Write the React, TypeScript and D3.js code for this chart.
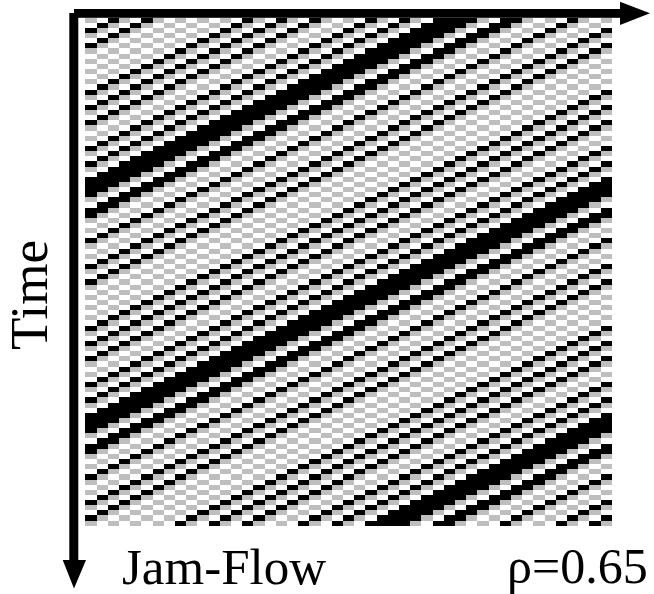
import React from "react";
import * as d3 from "d3";

// Diagonal jam stripes: each value is the row at which
// the stripe would meet column 0 (column + row = value).
const jamStripes = [
  2, 5, 14, 17, 20, 25, 28, 31, 32, 33, 34, 37, 38, 43,
  48, 51, 60, 63, 66, 71, 74, 77, 78, 79, 80, 83, 84, 89,
  94, 97, 106, 109, 112, 117, 120, 123, 124, 125, 126, 129, 130, 135,
  140, 143,
];
const rowCount = 99;
const ringSize = 46; // sites on the ring; the last drawn column repeats the first
const colCount = 47;

const xLabel = "Jam-Flow";
const yLabel = "Time";
const densityLabel = "ρ=0.65";

const colours = { jam: "#000000", moving: "#bebebe", empty: "#ffffff" };

const W = 654;
const H = 594;
const font = "'Liberation Serif', 'Times New Roman', serif";

type State = "jam" | "moving" | "empty";

function buildRows(): State[][] {
  const rows: State[][] = [];
  for (let r = 0; r < rowCount; r++) {
    const black = new Set<number>();
    jamStripes.forEach((k) => {
      const c = k - r;
      if (c >= 0 && c < colCount) black.add(c % ringSize);
    });
    const first = Math.min(...Array.from(black));
    const ring: State[] = new Array(ringSize);
    let prev: State = "jam";
    ring[first] = "jam";
    for (let i = 1; i < ringSize; i++) {
      const c = (first + i) % ringSize;
      let s: State;
      if (black.has(c)) s = "jam";
      else if (prev === "moving") s = "empty";
      else s = "moving";
      ring[c] = s;
      prev = s;
    }
    rows.push([...ring, ring[0]]);
  }
  return rows;
}

export default function App() {
  const x = d3.scaleLinear().domain([0, colCount]).range([85.3, 611.7]);
  const y = d3.scaleLinear().domain([0, rowCount]).range([17.7, 525.7]);
  const rows = buildRows();
  const cw = x(1) - x(0);
  const rh = y(1) - y(0);
  return (
    <svg
      width={W}
      height={H}
      viewBox={`0 0 ${W} ${H}`}
      style={{ position: "absolute", left: 0, top: 0, background: "#fff" }}
    >
      <defs>
        <filter id="soft" x="-2%" y="-2%" width="104%" height="104%">
          <feGaussianBlur stdDeviation="0.45" />
        </filter>
      </defs>
      <g shapeRendering="crispEdges" filter="url(#soft)">
        {rows.map((row, r) =>
          row.map((s, c) =>
            s === "empty" ? null : (
              <rect key={`${r}-${c}`} x={x(c)} y={y(r)} width={cw} height={rh} fill={colours[s]} />
            )
          )
        )}
      </g>
      <g fill="#000">
        <rect x={74} y={9} width={546} height={8.8} />
        <path d="M620,1.7 L650,13.3 L620,25 Z" />
        <rect x={69.3} y={13} width={9} height={547} />
        <path d="M62.7,560 L86,560 L74,588.5 Z" />
      </g>
      <g fontFamily={font} fill="#000">
        <text x={122} y={584} fontSize={51}>{xLabel}</text>
        <text x={507} y={583} fontSize={50}>{densityLabel}</text>
        <text transform="translate(47,350) rotate(-90)" fontSize={53}>{yLabel}</text>
      </g>
    </svg>
  );
}
